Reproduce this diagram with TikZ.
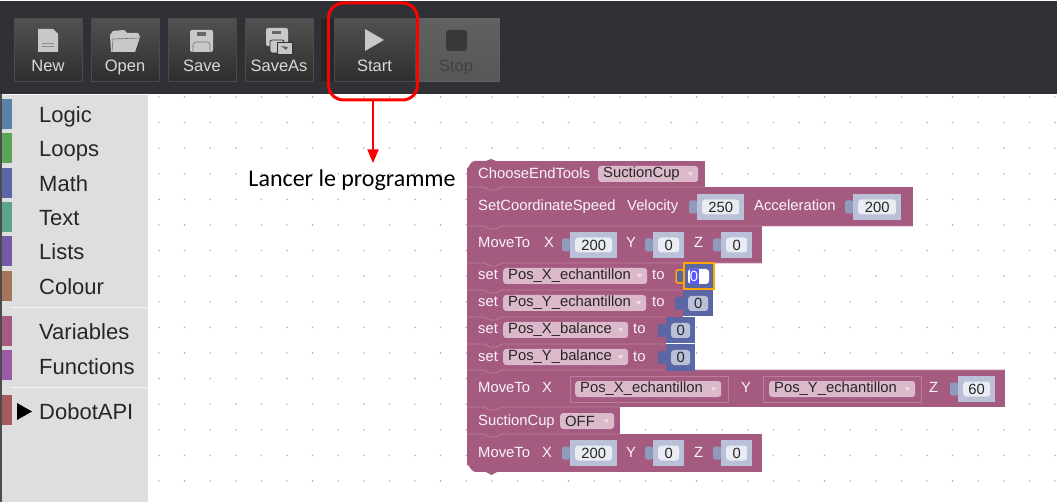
\documentclass[tikz,border=0pt]{standalone}
\usepackage{fontspec}
\setmainfont{Liberation Sans}
\newfontfamily\calibrifont{Carlito}
\usetikzlibrary{arrows}
\usetikzlibrary{shapes.geometric}
\definecolor{barbg}{HTML}{2F3136}
\definecolor{sidebg}{HTML}{DEDEDE}
\definecolor{varcol}{HTML}{A55B80}
\definecolor{seamcol}{HTML}{BC7D9C}
\definecolor{pillcol}{HTML}{DBB9CB}
\definecolor{mathcol}{HTML}{5B67A5}
\definecolor{incol}{HTML}{BAC0D7}
\definecolor{tabcol}{HTML}{8F9ABD}
\definecolor{fieldcol}{HTML}{E9ECF3}
\definecolor{iconcol}{HTML}{C8C8C8}
\tikzstyle{toolbtn} = [rectangle, anchor=north west, minimum height=63pt, inner sep=0pt,
top color=black!68, bottom color=black!82, draw=black!70, line width=0.6pt]
\tikzstyle{offbtn} = [toolbtn, top color=black!62, bottom color=black!66, draw=black!62]
\tikzstyle{btnlabel} = [font=\fontsize{16.5}{16.5}\selectfont, color=black!15, anchor=base, inner sep=0pt]
\tikzstyle{sideswatch} = [rectangle, anchor=north west, minimum width=10pt, minimum height=30pt, inner sep=0pt]
\tikzstyle{sidelabel} = [font=\fontsize{22}{22}\selectfont, color=black!85, anchor=base west, inner sep=0pt]
\tikzstyle{block} = [rectangle, fill=varcol, anchor=north west, inner sep=0pt]
\tikzstyle{blocklabel} = [font=\fontsize{14.8}{14.8}\selectfont, color=white!93!varcol, anchor=base west, inner sep=0pt]
\tikzstyle{pillbox} = [rectangle, rounded corners=3pt, fill=pillcol, anchor=west, minimum height=16pt, inner sep=0pt]
\tikzstyle{pilltext} = [font=\fontsize{14.8}{14.8}\selectfont, color=black!85, anchor=west, inner sep=0pt]
\tikzstyle{inbox} = [rectangle, fill=incol, anchor=west, minimum height=26pt, inner sep=0pt]
\tikzstyle{tabbox} = [rectangle, rounded corners=1.5pt, fill=tabcol, minimum width=8pt, minimum height=13pt, inner sep=0pt]
\tikzstyle{field} = [rectangle, rounded corners=3pt, fill=fieldcol, minimum height=15pt, inner sep=0pt,
font=\fontsize{14.8}{14.8}\selectfont, text=black!85]
\tikzstyle{slot} = [rectangle, fill=varcol, draw=seamcol, line width=0.7pt, anchor=west, minimum height=26pt, inner sep=0pt]
\tikzstyle{redbox} = [rectangle, draw=red, rounded corners=15pt, line width=3pt, anchor=north west, inner sep=0pt]
\tikzstyle{arrow} = [line width=2.2pt, ->, >=triangle 45, color=red]
\newcommand{\numin}[5]{ %
  % Value block: name, left x, centre y, width, value.
  \node[tabbox] (#1t) at (#2-4,#3) {};
  \node[inbox, minimum width=#4pt] (#1) at (#2,#3) {};
  \node[field, minimum width=#4pt-10pt] (#1f) at (#1.center) {#5};
}
\newcommand{\mathin}[5]{ %
  % Same, for a number block of the Math colour.
  \node[tabbox, fill=mathcol] (#1t) at (#2-4,#3) {};
  \node[inbox, fill=mathcol, minimum width=#4pt] (#1) at (#2,#3) {};
  \node[field, fill=incol, minimum width=#4pt-10pt] (#1f) at (#1.center) {#5};
}
\newcommand{\varpill}[5]{ %
  % Dropdown: name, left x, centre y, width, text.
  \node[pillbox, minimum width=#4pt] (#1) at (#2,#3) {};
  \node[pilltext] (#1l) at (#2+5,#3) {#5};
  \fill[white!85!varcol] (#2+#4-10,#3-1.5) -- (#2+#4-5,#3-1.5) -- (#2+#4-7.5,#3+1.5) -- cycle;
}
\begin{document}
\begin{tikzpicture}[x=1pt,y=-1pt]
  \useasboundingbox (0,0) rectangle (1057,502);
  \fill[white] (0,0) rectangle (1057,502);
  \fill[barbg] (0,1) rectangle (1057,94);
  \fill[black!70] (0,94) rectangle (2,502);
  \fill[black!85] (321,18) rectangle (334,81);

  % toolbar
  \foreach \bx/\bn/\bt in {14/new/New,91/open/Open,168/save/Save,245/saveas/SaveAs} {
    \node[toolbtn, minimum width=68pt] (\bn) at (\bx,18) {};
    \node[btnlabel] (\bn l) at (\bx+34,72) {\bt};
  }
  \node[toolbtn, minimum width=81pt] (start) at (334,18) {};
  \node[btnlabel] (startl) at (374.5,72) {Start};
  \node[offbtn, minimum width=80pt] (stop) at (419,18) {};
  \node[btnlabel, color=black!75] (stopl) at (456,72) {Stop};

  \fill[iconcol] (38,29) -- (53,29) -- (58,34) -- (58,52) -- (38,52) -- cycle;
  \draw[black!45, line width=0.5pt] (42,43) -- (54,43) (42,46) -- (54,46);
  \fill[iconcol] (111,52) -- (110,35) -- (113,31) -- (124,30) -- (127,33) -- (138,33) -- (140,37)
    -- (135,52) -- cycle;
  \draw[black!55, line width=0.6pt] (112,52) -- (113,39) -- (140,38);
  \fill[iconcol, rounded corners=2pt] (190,30) rectangle (213,52);
  \fill[black!60] (197,32) rectangle (206,36);
  \draw[black!55, line width=0.6pt, rounded corners=3pt] (193,52) -- (193,42) -- (210,42) -- (210,52);
  \fill[iconcol, rounded corners=2pt] (266,28) rectangle (288,46);
  \fill[black!60] (272,31) rectangle (281,34);
  \draw[barbg, fill=iconcol, line width=0.8pt, rounded corners=2pt] (270,40) rectangle (284,53);
  \draw[barbg, fill=iconcol, line width=0.8pt] (277,42) rectangle (292,54);
  \fill[black!60] (281,46) -- (288,47) -- (286,50) -- cycle;
  \fill[iconcol] (365,29) -- (384,40) -- (365,51) -- cycle;
  \fill[black!78, rounded corners=3pt] (446,30) rectangle (467,51);

  % sidebar
  \fill[sidebg] (2,95) rectangle (148,502);
  \draw[white!60!sidebg, line width=1pt] (10,308) -- (148,308) (10,387) -- (148,387);
  \foreach \sy/\sn/\sc/\st in {99/logic/5B80A5/Logic,133/loops/5BA55B/Loops,168/math/5B67A5/Math,
    202/text/5BA58C/Text,236/lists/745BA5/Lists,271/colour/A5745B/Colour,
    316/variables/A55B80/Variables,350/functions/995BA5/Functions,395/dobot/A55B5B/DobotAPI} {
    \definecolor{swatchcol}{HTML}{\sc}
    \node[sideswatch, fill=swatchcol] (\sn) at (2,\sy) {};
    \node[sidelabel] (\sn l) at (39,\sy+24) {\st};
  }
  \fill[black] (17,403) -- (32,411.5) -- (17,420) -- cycle;

  % dotted grid
  \foreach \i in {0,...,35} {
    \foreach \j in {0,...,15} {
      \fill[black!28] (159+25.6*\i,97+25.6*\j) circle (0.9);
    }
  }

  % blocks
  \node[block, minimum width=238pt, minimum height=26pt] (r1) at (467,161) {};
  \fill[white] (467,161) rectangle (474,168);
  \fill[varcol] (467,168) to[out=-90,in=180] (474,161) -- (486,161) -- (491,159) -- (496,161) -- (496,168) -- cycle;
  \node[block, minimum width=446pt, minimum height=39pt] (r2) at (467,187) {};
  \node[block, minimum width=295pt, minimum height=37pt] (r3) at (467,226) {};
  \node[block, minimum width=216pt, minimum height=27pt] (r4) at (467,263) {};
  \node[block, minimum width=216pt, minimum height=27pt] (r5) at (467,290) {};
  \node[block, minimum width=199pt, minimum height=27pt] (r6) at (467,317) {};
  \node[block, minimum width=199pt, minimum height=27pt] (r7) at (467,344) {};
  \node[block, minimum width=538pt, minimum height=37pt] (r8) at (467,370) {};
  \node[block, minimum width=153pt, minimum height=27pt] (r9) at (467,407) {};
  \node[block, minimum width=295pt, minimum height=38pt] (r10) at (467,434) {};
  \fill[white] (467,465) rectangle (475,472);
  \fill[varcol] (467,465) to[out=90,in=180] (475,472) -- (475,465) -- cycle;
  \fill[varcol] (486,472) -- (497,472) -- (491.5,475) -- cycle;
  \foreach \ry/\rw in {187/705,226/913,263/762,290/683,317/666,344/666,370/1005,407/620,434/620} {
    \draw[seamcol, line width=0.7pt] (467,\ry) -- (484,\ry) -- (490,\ry+3) -- (496,\ry+3) -- (502,\ry) -- (\rw,\ry);
  }

  % row 1
  \node[blocklabel] (choose) at (478,179) {ChooseEndTools};
  \varpill{tool}{598}{174}{100}{SuctionCup}
  % row 2
  \node[blocklabel] (speed) at (478,211) {SetCoordinateSpeed};
  \node[blocklabel] (veloc) at (627,211) {Velocity};
  \numin{vel}{697}{207}{47}{250}
  \node[blocklabel] (accel) at (754,211) {Acceleration};
  \numin{acc}{853}{207}{48}{200}
  % row 3
  \node[blocklabel] (mv1) at (478,248) {MoveTo};
  \node[blocklabel] (mv1x) at (544,248) {X};
  \numin{mv1a}{570}{245}{47}{200}
  \node[blocklabel] (mv1y) at (626,248) {Y};
  \numin{mv1b}{653}{245}{31}{0}
  \node[blocklabel] (mv1z) at (694,248) {Z};
  \numin{mv1c}{721}{245}{31}{0}
  % rows 4 to 7
  \node[blocklabel] (set1) at (478,280) {set};
  \varpill{px}{503}{276}{144}{Pos\_X\_echantillon}
  \node[blocklabel] (to1) at (652,280) {to};
  \node[tabbox, fill=mathcol, draw=orange!70!yellow, line width=1.5pt] (selt) at (680,276.5) {};
  \node[rectangle, fill=mathcol, draw=orange!70!yellow, line width=2pt, minimum width=30pt, minimum height=26pt, inner sep=0pt] (sel) at (698.5,276.5) {};
  \node[field, fill=white, minimum width=21pt] (self) at (sel) {};
  \node[rectangle, fill=blue!65!white, text=white, minimum width=9pt, minimum height=15pt, inner sep=0pt, font=\fontsize{14.8}{14.8}\selectfont] (selv) at (694,276.5) {0};

  \node[blocklabel] (set2) at (478,307) {set};
  \varpill{py}{503}{303}{143}{Pos\_Y\_echantillon}
  \node[blocklabel] (to2) at (652,307) {to};
  \mathin{v2}{683}{303.5}{30}{0}

  \node[blocklabel] (set3) at (478,334) {set};
  \varpill{bx}{503}{330}{125}{Pos\_X\_balance}
  \node[blocklabel] (to3) at (633,334) {to};
  \mathin{v3}{666}{330.5}{29}{0}

  \node[blocklabel] (set4) at (478,361) {set};
  \varpill{by}{503}{357}{125}{Pos\_Y\_balance}
  \node[blocklabel] (to4) at (633,361) {to};
  \mathin{v4}{666}{357.5}{29}{0}
  % row 8
  \node[blocklabel] (mv2) at (478,392) {MoveTo};
  \node[blocklabel] (mv2x) at (542,392) {X};
  \node[slot, minimum width=158pt] (sx) at (570,389) {};
  \varpill{mxp}{575}{389}{146}{Pos\_X\_echantillon}
  \node[blocklabel] (mv2y) at (741,392) {Y};
  \node[slot, minimum width=158pt] (sy) at (763,389) {};
  \varpill{myp}{769}{389}{146}{Pos\_Y\_echantillon}
  \node[blocklabel] (mv2z) at (929,392) {Z};
  \numin{mv2c}{958}{389}{37}{60}
  % row 9
  \node[blocklabel] (cup) at (478,425) {SuctionCup};
  \varpill{off}{560}{421}{54}{OFF}
  % row 10
  \node[blocklabel] (mv3) at (478,457) {MoveTo};
  \node[blocklabel] (mv3x) at (542,457) {X};
  \numin{mv3a}{570}{453}{47}{200}
  \node[blocklabel] (mv3y) at (626,457) {Y};
  \numin{mv3b}{653}{453}{31}{0}
  \node[blocklabel] (mv3z) at (694,457) {Z};
  \numin{mv3c}{721}{453}{31}{0}

  % callout
  \node[redbox, minimum width=89pt, minimum height=97pt] (callout) at (327,1.5) {};
  \coordinate (tip) at (callout.south |- 0,163);
  \draw[arrow] (callout.south) -- (tip);
  \node[font=\calibrifont\fontsize{24}{24}\selectfont, color=black, anchor=base, inner sep=0pt] (lancer) at (352,187) {Lancer le programme};
\end{tikzpicture}
\end{document}
